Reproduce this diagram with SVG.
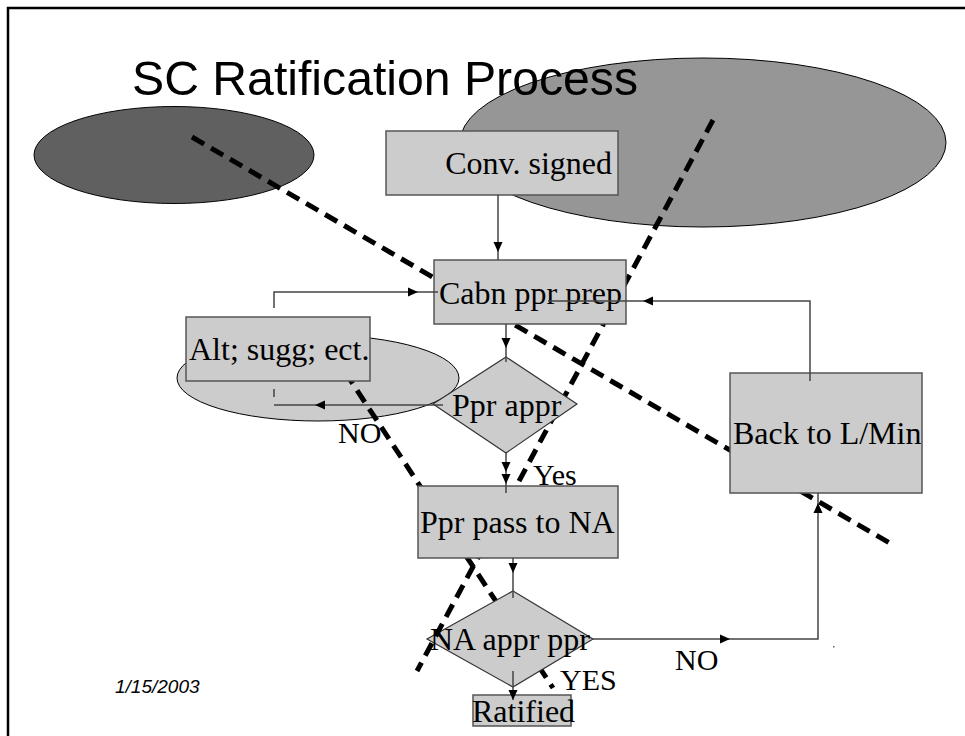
<svg xmlns="http://www.w3.org/2000/svg" xmlns:xlink="http://www.w3.org/1999/xlink" width="965" height="736" viewBox="0 0 965 736">
  <style>
    .frame { stroke: #000; stroke-width: 2.5; fill: none; }
    .box { fill: #cccccc; stroke: #555; stroke-width: 1.5; }
    .dia { fill: #cccccc; stroke: #333; stroke-width: 1.2; }
    .lbl { font-family: "Liberation Serif", "Times New Roman", serif; font-size: 32px; fill: #000; }
    .small { font-family: "Liberation Serif", "Times New Roman", serif; font-size: 30px; fill: #000; }
    .conn { stroke: #444; stroke-width: 1.5; fill: none; }
    .dash { stroke: #000; stroke-width: 5; stroke-dasharray: 14 8; fill: none; }
    .head { fill: #000; }
  </style>
  <defs>
    <!-- arrowhead pointing right, tip at origin -->
    <path id="arr" d="M0,0 L-10,-4.5 L-10,4.5 Z"/>
  </defs>

  <rect width="965" height="736" fill="#fff"/>
  <!-- slide frame -->
  <path class="frame" d="M7,8 H965 M8,7 V736"/>

  <!-- background ellipses -->
  <ellipse cx="174" cy="155" rx="140" ry="48.5" fill="#606060" stroke="#000" stroke-width="1"/>
  <ellipse cx="703" cy="142.5" rx="243" ry="84.5" fill="#969696" stroke="#000" stroke-width="1"/>

  <text x="132" y="95" font-family="'Liberation Sans', Arial, sans-serif" font-size="49" textLength="506" lengthAdjust="spacingAndGlyphs" fill="#000">SC Ratification Process</text>

  <ellipse cx="318" cy="378" rx="141" ry="43" fill="#cccccc" stroke="#000" stroke-width="1"/>

  <!-- dashed division lines (lower layer) -->
  <g id="divisions-lower">
    <path class="dash" d="M192,137 L893,545"/>
    <path class="dash" d="M345,372 L553,688"/>
  </g>

  <g id="node-na-appr">
    <polygon class="dia" points="513,591 593,639 513,687 427,639"/>
    <text class="lbl" x="430" y="650">NA appr ppr</text>
  </g>

  <g id="divisions-upper">
    <path class="dash" d="M713,120 L417,671"/>
  </g>

  <g id="node-conv">
    <rect class="box" x="386" y="131" width="232" height="64"/>
    <text class="lbl" x="612" y="174" text-anchor="end">Conv. signed</text>
  </g>
  <g id="node-cabn">
    <rect class="box" x="434" y="260" width="192" height="64"/>
    <text class="lbl" x="439" y="304">Cabn ppr prep</text>
  </g>
  <g id="node-alt">
    <rect class="box" x="186" y="317" width="184" height="64"/>
    <text class="lbl" x="189" y="360">Alt; sugg; ect.</text>
  </g>
  <g id="node-ppr-appr">
    <polygon class="dia" points="506,357 577,404 506,453 433,404"/>
    <text class="lbl" x="452" y="416">Ppr appr</text>
  </g>
  <g id="node-ppr-pass">
    <rect class="box" x="418" y="486" width="200" height="72"/>
    <text class="lbl" x="420" y="533">Ppr pass to NA</text>
  </g>
  <g id="node-back">
    <rect class="box" x="730" y="373" width="192" height="120"/>
    <text class="lbl" x="733" y="444">Back to L/Min</text>
  </g>
  <g id="node-ratified">
    <rect class="box" x="473" y="695" width="98" height="31"/>
    <text class="lbl" x="472" y="722">Ratified</text>
  </g>

  <!-- connectors -->
  <g id="connectors">
    <path class="conn" d="M498,195 V260"/>
    <use href="#arr" class="head" transform="translate(498,252) rotate(90)"/>

    <path class="conn" d="M274,308 V292 H438"/>
    <use href="#arr" class="head" transform="translate(418,292)"/>

    <path class="conn" d="M810,381 V301 H548"/>
    <use href="#arr" class="head" transform="translate(643,301) rotate(180)"/>

    <path class="conn" d="M506,324 V362"/>
    <use href="#arr" class="head" transform="translate(506,348) rotate(90)"/>

    <path class="conn" d="M443,405 H274 M274,389 V397"/>
    <use href="#arr" class="head" transform="translate(315,405) rotate(180)"/>

    <path class="conn" d="M506,453 V493"/>
    <use href="#arr" class="head" transform="translate(506,472) rotate(90)"/>
    <use href="#arr" class="head" transform="translate(506,484) rotate(90)"/>

    <path class="conn" d="M513,558 V598"/>
    <use href="#arr" class="head" transform="translate(513,573) rotate(90)"/>

    <path class="conn" d="M513,671 V700"/>
    <use href="#arr" class="head" transform="translate(513,700) rotate(90)"/>

    <path class="conn" d="M593,639 H818 V493"/>
    <use href="#arr" class="head" transform="translate(730,639)"/>
    <use href="#arr" class="head" transform="translate(818,503) rotate(-90)"/>

    <rect x="833" y="646" width="1.5" height="1.5" fill="#666"/>
  </g>

  <!-- connector labels -->
  <g id="labels">
    <text class="small" x="338" y="443">NO</text>
    <text class="small" x="533" y="485" font-size="29">Yes</text>
    <text class="small" x="560" y="690" font-size="29">YES</text>
    <text class="small" x="675" y="670">NO</text>
  </g>

  <text x="115" y="693" font-family="'Liberation Sans', Arial, sans-serif" font-size="19" font-style="italic" fill="#000">1/15/2003</text>
</svg>
